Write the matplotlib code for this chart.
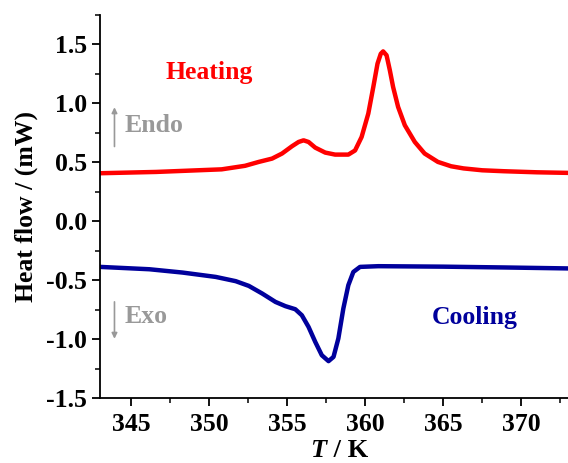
import matplotlib
matplotlib.use('Agg')
from matplotlib import pyplot as plt
from matplotlib.ticker import MultipleLocator, FormatStrFormatter

plt.rcParams['font.family'] = 'Liberation Serif'
plt.rcParams['font.weight'] = 'bold'

# heating curve (T in K, heat flow in mW)
heat_T = [343, 346.6, 350.8, 352.3, 353.18, 354.03, 354.67, 355.31, 355.73, 356.05,
          356.37, 356.8, 357.44, 358.07, 358.92, 359.35, 359.77, 360.2, 360.52,
          360.79, 361.0, 361.15, 361.37, 361.58, 361.79, 362.11, 362.54, 363.18,
          363.81, 364.66, 365.51, 366.3, 367.5, 368.9, 371, 373]
heat_Q = [0.407, 0.418, 0.44, 0.47, 0.503, 0.531, 0.574, 0.636, 0.672, 0.686,
          0.672, 0.624, 0.582, 0.565, 0.565, 0.60, 0.714, 0.913, 1.138,
          1.336, 1.42, 1.44, 1.407, 1.28, 1.138, 0.969, 0.814, 0.672,
          0.574, 0.503, 0.466, 0.448, 0.432, 0.424, 0.415, 0.41]

# cooling curve
cool_T = [343, 346.17, 348.29, 350.42, 351.7, 352.54, 353.4, 354.25, 354.89, 355.52,
          355.94, 356.37, 356.8, 357.22, 357.65, 357.97, 358.28, 358.6, 358.92,
          359.24, 359.67, 360.84, 365, 369, 373]
cool_Q = [-0.387, -0.407, -0.435, -0.472, -0.508, -0.548, -0.613, -0.684, -0.72, -0.746,
          -0.797, -0.896, -1.023, -1.136, -1.186, -1.15, -0.994, -0.74, -0.542,
          -0.43, -0.387, -0.381, -0.385, -0.392, -0.40]

fig = plt.figure(figsize=(5.68, 4.63), dpi=100)
ax = fig.add_axes([0.176, 0.140, 0.824, 0.828])

ax.plot(heat_T, heat_Q, color='#ff0000', lw=3.2, solid_capstyle='round', solid_joinstyle='round')
ax.plot(cool_T, cool_Q, color='#00009c', lw=3.2, solid_capstyle='round', solid_joinstyle='round')

ax.set_xlim(343, 373)
ax.set_ylim(-1.5, 1.75)
ax.xaxis.set_major_locator(MultipleLocator(5))
ax.xaxis.set_minor_locator(MultipleLocator(2.5))
ax.yaxis.set_major_locator(MultipleLocator(0.5))
ax.yaxis.set_minor_locator(MultipleLocator(0.25))
ax.yaxis.set_major_formatter(FormatStrFormatter('%.1f'))

for s in ['top', 'right']:
    ax.spines[s].set_visible(False)
for s in ['left', 'bottom']:
    ax.spines[s].set_linewidth(1.3)
ax.tick_params(which='major', direction='out', length=6, width=1.3, labelsize=18.5)
ax.tick_params(axis='x', which='major', pad=5)
ax.tick_params(which='minor', direction='out', length=3.5, width=1.1)

# x label: italic T, upright " / K"
fig.text(0.575, 0.014, ' / K', fontsize=19, fontweight='bold', ha='left', va='baseline')
fig.text(0.575, 0.014, 'T', fontsize=19, fontweight='bold', style='italic', ha='right', va='baseline')
ax.set_ylabel('Heat flow / (mW)', fontsize=18.5, fontweight='bold', labelpad=6)

ax.text(350.0, 1.26, 'Heating', color='#ff0000', fontsize=18.5, fontweight='bold',
        ha='center', va='center')
ax.text(367.0, -0.82, 'Cooling', color='#00009c', fontsize=18.5, fontweight='bold',
        ha='center', va='center')
ax.text(344.6, 0.81, 'Endo', color='#999999', fontsize=18.5, fontweight='bold',
        ha='left', va='center')
ax.text(344.6, -0.81, 'Exo', color='#999999', fontsize=18.5, fontweight='bold',
        ha='left', va='center')
ax.annotate('', xy=(343.93, 0.99), xytext=(343.93, 0.61),
            arrowprops=dict(arrowstyle='-|>', color='#999999', lw=1.2, mutation_scale=8))
ax.annotate('', xy=(343.93, -1.02), xytext=(343.93, -0.66),
            arrowprops=dict(arrowstyle='-|>', color='#999999', lw=1.2, mutation_scale=8))

fig.savefig('out.png', dpi=100)
plt.close(fig)
